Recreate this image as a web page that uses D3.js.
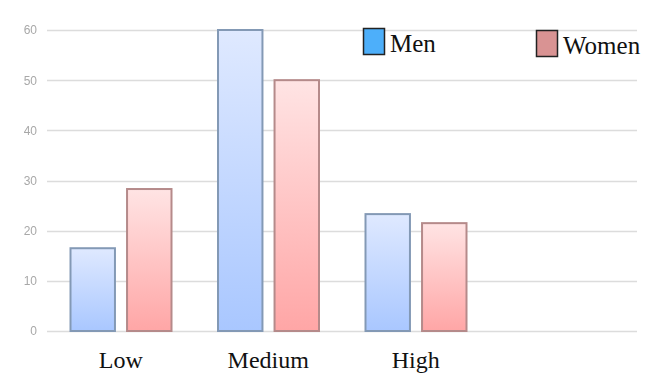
<!DOCTYPE html>
<html>
<head>
<meta charset="utf-8">
<script src="https://cdn.jsdelivr.net/npm/d3@7"></script>
<style>
  html, body { margin: 0; padding: 0; background: #fff; }
  svg { display: block; }
</style>
</head>
<body>
<svg id="chart" width="655" height="373"></svg>
<script>
// Data
const categories = ["Low", "Medium", "High"];
const seriesNames = ["Men", "Women"];
const menValues = [16.5, 60, 23.3];
const womenValues = [28.3, 50, 21.5];
const yTicks = [0, 10, 20, 30, 40, 50, 60];

const svg = d3.select("#chart");
const margin = { left: 47, right: 18, top: 30, bottom: 42 };
const W = 655, H = 373;
const plotRight = W - margin.right;
const plotBottom = H - margin.bottom;

// Four slots along x; the last one stays empty
const x = d3.scaleBand()
  .domain([...categories, "_empty"])
  .range([margin.left, plotRight])
  .paddingInner(0).paddingOuter(0);

const y = d3.scaleLinear().domain([0, 60]).range([plotBottom, margin.top]);

const inner = d3.scaleBand()
  .domain(seriesNames)
  .range([23, 23 + 102])
  .paddingInner(10 / 51)
  .paddingOuter(0);

const defs = svg.append("defs");
function grad(id, top, bottom) {
  const g = defs.append("linearGradient").attr("id", id)
    .attr("x1", 0).attr("y1", 0).attr("x2", 0).attr("y2", 1);
  g.append("stop").attr("offset", "0%").attr("stop-color", top);
  g.append("stop").attr("offset", "100%").attr("stop-color", bottom);
}
grad("gMen", "#dfe9ff", "#a9c7ff");
grad("gWomen", "#ffe4e4", "#ffa6a6");

const styles = {
  Men: { fill: "url(#gMen)", stroke: "#8399b5", legend: "#4daffa" },
  Women: { fill: "url(#gWomen)", stroke: "#b58a8a", legend: "#d99393" }
};

// Gridlines
svg.append("g").selectAll("line").data(yTicks).join("line")
  .attr("x1", margin.left).attr("x2", plotRight)
  .attr("y1", d => Math.round(y(d)) + 0.5).attr("y2", d => Math.round(y(d)) + 0.5)
  .attr("stroke", "#dcdcdc").attr("stroke-width", 1.5);

// Y tick labels
const yAxis = d3.axisLeft(y).tickValues(yTicks).tickSize(0).tickPadding(0);
const ya = svg.append("g").attr("transform", `translate(${margin.left - 10},0)`).call(yAxis);
ya.select(".domain").remove();
ya.selectAll("text")
  .attr("fill", "#a8a8a8")
  .attr("font-family", "Liberation Sans, Arial, sans-serif")
  .attr("font-size", 12)
  .style("filter", "blur(0.4px)");

// Bars
const rows = categories.map((c, i) => ({ cat: c, Men: menValues[i], Women: womenValues[i] }));
const groups = svg.append("g").selectAll("g").data(rows).join("g")
  .attr("transform", d => `translate(${x(d.cat)},0)`);
groups.selectAll("rect")
  .data(d => seriesNames.map(s => ({ s, v: d[s] })))
  .join("rect")
  .attr("x", d => inner(d.s) + 0.5)
  .attr("width", inner.bandwidth() - 1)
  .attr("y", d => y(d.v))
  .attr("height", d => y(0) - y(d.v))
  .attr("fill", d => styles[d.s].fill)
  .attr("stroke", d => styles[d.s].stroke)
  .attr("stroke-width", 2);

// Category labels
const xa = svg.append("g")
  .attr("transform", `translate(0,${plotBottom})`)
  .call(d3.axisBottom(x).tickValues(categories).tickSize(0).tickPadding(0));
xa.select(".domain").remove();
xa.selectAll("text")
  .attr("dy", null)
  .attr("y", 37)
  .attr("fill", "#111")
  .attr("font-family", "Liberation Serif, Times New Roman, serif")
  .attr("font-size", 24);

// Legend
const legendPos = { Men: [363, 28], Women: [536, 30] };
const lg = svg.append("g").selectAll("g").data(seriesNames).join("g")
  .attr("transform", d => `translate(${legendPos[d][0]},${legendPos[d][1]})`);
lg.append("rect")
  .attr("x", 0.5).attr("y", 0.5)
  .attr("width", 21).attr("height", 26)
  .attr("fill", d => styles[d].legend)
  .attr("stroke", "#222").attr("stroke-width", 1.5);
lg.append("text")
  .attr("x", 27).attr("y", 23.5)
  .attr("font-family", "Liberation Serif, Times New Roman, serif")
  .attr("font-size", 25)
  .attr("fill", "#111")
  .text(d => d);
</script>
</body>
</html>
